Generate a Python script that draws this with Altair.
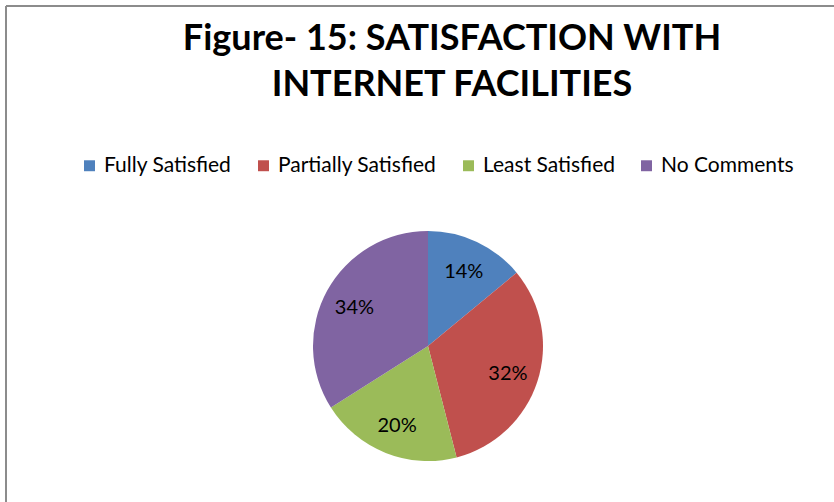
import altair as alt
import pandas as pd

categories = ["Fully Satisfied", "Partially Satisfied", "Least Satisfied", "No Comments"]
shares = [14, 32, 20, 34]
labels = ["14%", "32%", "20%", "34%"]
colors = ["#4F81BD", "#C0504D", "#9BBB59", "#8064A2"]

df = pd.DataFrame({
    "Category": categories,
    "Share": shares,
    "Label": labels,
    "Order": list(range(len(categories))),
})

FONT = "Lato"

base = alt.Chart(df).encode(
    theta=alt.Theta("Share:Q", stack=True),
    order=alt.Order("Order:Q"),
)

pie = base.mark_arc(outerRadius=115, stroke=None).encode(
    color=alt.Color(
        "Category:N",
        scale=alt.Scale(domain=categories, range=colors),
        sort=categories,
        legend=alt.Legend(
            title=None,
            orient="none",
            legendX=79,
            legendY=155,
            direction="horizontal",
            symbolType="square",
            symbolSize=120,
            symbolStrokeWidth=0,
            labelFontSize=21,
            labelFont=FONT,
            labelColor="#000000",
            columnPadding=21,
            labelOffset=4,
        ),
    ),
    x=alt.value(428),
    y=alt.value(346),
)

text = base.mark_text(radius=84, fontSize=20, font=FONT, color="#000000").encode(
    text="Label:N",
    x=alt.value(428),
    y=alt.value(348),
)

border = alt.Chart(alt.Data(values=[{}]))
left_edge = border.mark_rule(color="#8C8C8C", strokeWidth=2).encode(
    x=alt.value(6), y=alt.value(6), y2=alt.value(502)
)
top_edge = border.mark_rule(color="#8C8C8C", strokeWidth=2).encode(
    x=alt.value(6), x2=alt.value(834), y=alt.value(6)
)

chart = alt.layer(left_edge, top_edge, pie, text).properties(
    width=834,
    height=502,
    autosize=alt.AutoSizeParams(type="none"),
    padding=0,
    title=alt.TitleParams(
        text=["Figure- 15: SATISFACTION WITH", "INTERNET FACILITIES"],
        font=FONT,
        fontSize=36,
        fontWeight="bold",
        color="#000000",
        anchor="middle",
        frame="group",
        dx=35,
        offset=-104,
        lineHeight=46,
    ),
).configure_view(stroke=None)

chart.save("out.html", embed_options={"renderer": "svg", "actions": False})
